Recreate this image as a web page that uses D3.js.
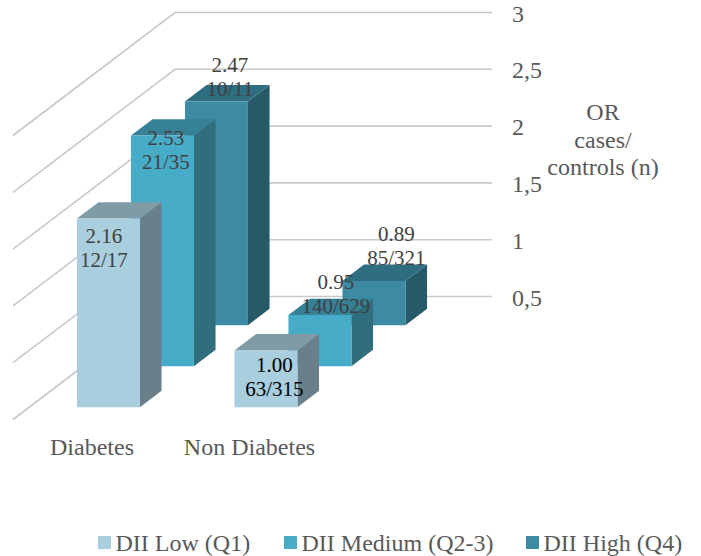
<!DOCTYPE html>
<html>
<head>
<meta charset="utf-8">
<script src="https://cdn.jsdelivr.net/npm/d3@7"></script>
<style>
html,body{margin:0;padding:0;background:#fff}
text{font-family:"Liberation Serif","Times New Roman",serif}
</style>
</head>
<body>
<svg id="chart" width="701" height="556"></svg>
<script>
// Chart data
const categories = ["Diabetes", "Non Diabetes"];
const seriesNames = ["DII Low (Q1)", "DII Medium (Q2-3)", "DII High (Q4)"];
const lowValues = [2.16, 1.00];
const mediumValues = [2.53, 0.95];
const highValues = [2.47, 0.89];
const lowCounts = ["12/17", "63/315"];
const mediumCounts = ["21/35", "140/629"];
const highCounts = ["10/11", "85/321"];
const yTicks = [0.5, 1, 1.5, 2, 2.5, 3];
const yTickLabels = ["0,5", "1", "1,5", "2", "2,5", "3"];
const titleLines = ["OR", "cases/", "controls (n)"];

// Oblique projection: each series row pushes right and up by a fixed step
const depthX = 54, depthY = 41, rows = 3;
const barDepth = 0.4;

const x = d3.scaleBand().domain(categories).range([13.5, 328.5]);
const barWidth = 63;
const y = d3.scaleLinear().domain([0.5, 3]).range([419.5, 135.5]);
const px = (cat, row) => x(cat) + x.bandwidth() / 2 + row * depthX;
const py = (v, row) => y(v) - row * depthY;

const svg = d3.select("#chart");

// Side wall and back wall grid
const wallLeft = 13, wallRight = 330;
const grid = svg.append("g").attr("fill", "none").attr("stroke", "#c9c9c9").attr("stroke-width", 1.6);
yTicks.forEach(t => {
  grid.append("path").attr("d", d3.line()([
    [wallLeft, y(t)],
    [wallLeft + rows * depthX, py(t, rows)],
    [wallRight + rows * depthX, py(t, rows)]
  ]));
});

// Per-series face colours
const palette = [
  {front: "#a9cedd", top: "#7f9ca6", side: "#697f8a", text: "#404040"},
  {front: "#47acc8", top: "#378197", side: "#306e7e", text: "#404040"},
  {front: "#3c8ba3", top: "#2f6d80", side: "#265a68", text: "#404040"}
];
const values = [lowValues, mediumValues, highValues];
const counts = [lowCounts, mediumCounts, highCounts];

// Hand-placed value label offsets from the top-centre of each bar's front face
const labelOffsets = [
  [[-4.5, 24], [8.5, 22]],
  [[3.5, 9], [16, -26]],
  [[13.5, -29], [22.5, -40]]
];

// Painter's order: the rearmost row first
const bars = svg.append("g");
[2, 1, 0].forEach(s => {
  categories.forEach((cat, c) => {
    const v = values[s][c];
    const r0 = s + (1 - barDepth) / 2, r1 = r0 + barDepth;
    const cx = px(cat, r0);
    const xl = cx - barWidth / 2, xr = cx + barWidth / 2;
    const sx = (r1 - r0) * depthX;
    const yt = py(v, r0), yb = py(0.5, r0);
    const sy = (r1 - r0) * depthY;
    const g = bars.append("g");
    const poly = (pts, fill) => g.append("polygon")
      .attr("points", pts.map(p => p.join(",")).join(" ")).attr("fill", fill);
    poly([[xr, yt], [xr + sx, yt - sy], [xr + sx, yb - sy], [xr, yb]], palette[s].side);
    poly([[xl, yt], [xl + sx, yt - sy], [xr + sx, yt - sy], [xr, yt]], palette[s].top);
    poly([[xl, yt], [xr, yt], [xr, yb], [xl, yb]], palette[s].front);
  });
});

// Value and case/control labels
const labels = svg.append("g").attr("font-size", 21).attr("text-anchor", "middle");
[0, 1, 2].forEach(s => {
  categories.forEach((cat, c) => {
    const r0 = s + (1 - barDepth) / 2;
    const [dx, dy] = labelOffsets[s][c];
    const lx = px(cat, r0) + dx, ly = py(values[s][c], r0) + dy;
    const fill = (s === 0 && c === 1) ? "#000" : palette[s].text;
    labels.append("text").attr("x", lx).attr("y", ly).attr("fill", fill)
      .text(values[s][c].toFixed(2));
    labels.append("text").attr("x", lx).attr("y", ly + 24).attr("fill", fill)
      .text(counts[s][c]);
  });
});

// Category labels
svg.append("g").selectAll("text").data(categories).join("text")
  .attr("x", (d, i) => [92, 249.5][i]).attr("y", 455)
  .attr("text-anchor", "middle").attr("font-size", 24).attr("fill", "#595959")
  .text(d => d);

// Value axis labels on the right of the back wall
svg.append("g").selectAll("text").data(yTicks).join("text")
  .attr("x", 512).attr("y", d => py(d, rows) + 9)
  .attr("font-size", 24).attr("fill", "#595959")
  .text((d, i) => yTickLabels[i]);

// Axis title
svg.append("g").selectAll("text").data(titleLines).join("text")
  .attr("x", 603).attr("y", (d, i) => 120 + i * 27.5)
  .attr("text-anchor", "middle").attr("font-size", 24).attr("fill", "#595959")
  .text(d => d);

// Legend
const legendX = [98, 284, 526];
const legend = svg.append("g");
seriesNames.forEach((name, i) => {
  legend.append("rect").attr("x", legendX[i]).attr("y", 536).attr("width", 13).attr("height", 13)
    .attr("fill", palette[i].front);
  legend.append("text").attr("x", legendX[i] + 17.5).attr("y", 550.5)
    .attr("font-size", 24).attr("fill", "#595959").text(name);
});
</script>
</body>
</html>
